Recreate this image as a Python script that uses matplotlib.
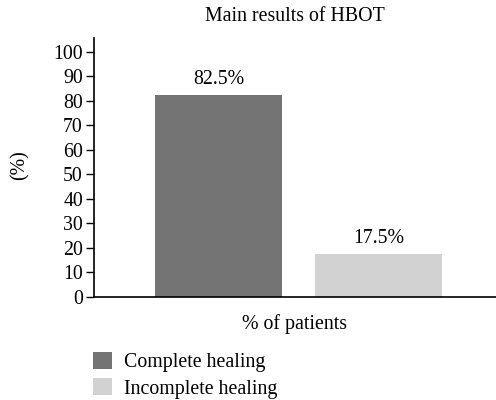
import matplotlib
matplotlib.use("Agg")
import matplotlib.pyplot as plt
from matplotlib.patches import Patch

categories = ["Complete healing", "Incomplete healing"]
values = [82.5, 17.5]
labels = ["82.5%", "17.5%"]
colors = ["#747474", "#d1d2d1"]
yticks = [0, 10, 20, 30, 40, 50, 60, 70, 80, 90, 100]

plt.rcParams['font.family'] = ['Liberation Serif', 'DejaVu Serif']
FS = 14.3

fig = plt.figure(figsize=(4.96, 4.0), dpi=100)
ax = fig.add_axes([94/496, 1-297/400, 1-94/496, (297-38)/400])

x = [0, 1]
bars = ax.bar(x, values, width=0.794, color=colors)
for xi, v, lab in zip(x, values, labels):
    ax.text(xi, v + 2.5, lab, ha='center', va='bottom', fontsize=FS)

ax.set_xlim(-0.778, 1.734)
ax.set_ylim(0, 105.7)
ax.set_yticks(yticks)
ax.set_xticks([])
ax.tick_params(axis='y', length=6, width=1, labelsize=FS, pad=2)
for s in ['top', 'right']:
    ax.spines[s].set_visible(False)
for s in ['left', 'bottom']:
    ax.spines[s].set_linewidth(1.2)

ax.set_title("Main results of HBOT", fontsize=FS, pad=12)
ax.set_xlabel("% of patients", fontsize=FS, labelpad=12)
fig.text(20/496, 1-165/400, "(%)", rotation=90, ha='center', va='center', fontsize=FS)

handles = [Patch(facecolor=c, edgecolor='none') for c in colors]
fig.legend(handles, categories, loc='upper left', bbox_to_anchor=(93/496, 1-352/400),
           frameon=False, fontsize=FS, handlelength=0.95, handleheight=0.95,
           handletextpad=0.6, labelspacing=0.3, borderaxespad=0, borderpad=0)

fig.savefig("out.png", dpi=100)
